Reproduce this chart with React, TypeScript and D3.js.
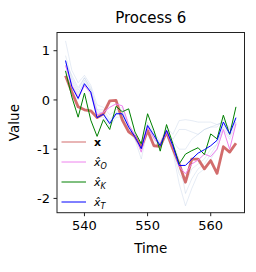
import React from "react";
import * as d3 from "d3";

const time = d3.range(537, 565);

const xTrue = [0.49, 0.16, -0.14, -0.2, -0.22, -0.36, -0.28, -0.02, -0.01, -0.41, -0.65, -0.74, -0.96, -0.62, -0.93, -0.94, -0.65, -0.99, -1.3, -1.67, -1.2, -1.2, -1.4, -1.23, -1.49, -0.95, -1.06, -0.88];
const xO = [0.7, 0.3, 0.05, 0.29, 0.15, -0.3, -0.25, -0.15, -0.08, -0.12, -0.5, -0.72, -1.06, -0.55, -0.78, -0.93, -0.65, -0.95, -1.35, -1.5, -1.3, -1.22, -1.1, -1.15, -1.0, -0.6, -1.0, -0.48];
const xK = [0.59, 0.06, -0.35, 0.14, -0.41, -0.74, -0.4, -0.6, -0.13, -0.24, -0.18, -0.65, -0.89, -0.28, -0.62, -1.04, -0.5, -0.89, -1.3, -1.1, -1.03, -0.97, -1.11, -0.69, -0.79, -0.31, -0.7, -0.14];
const xT = [0.8, 0.27, 0.03, 0.33, 0.16, -0.36, -0.29, -0.48, -0.28, -0.28, -0.55, -0.75, -0.99, -0.52, -0.72, -0.93, -0.62, -0.93, -1.33, -1.33, -1.2, -1.08, -1.01, -0.93, -0.82, -0.45, -0.69, -0.36];

const ens1 = [1.2, 0.6, 0.35, 0.5, 0.3, -0.1, -0.15, -0.3, -0.2, -0.15, -0.5, -0.7, -0.9, -0.45, -0.65, -0.85, -0.55, -0.7, -0.42, -0.4, -0.42, -0.45, -0.45, -0.45, -0.5, -0.45, -0.55, -0.45];
const ens2 = [0.9, 0.45, 0.2, 0.45, 0.25, -0.2, -0.2, -0.4, -0.25, -0.2, -0.55, -0.75, -1.0, -0.5, -0.7, -0.9, -0.6, -0.8, -0.6, -0.6, -0.65, -0.7, -0.6, -0.55, -0.55, -0.4, -0.6, -0.35];
const ens3 = [0.7, 0.35, 0.1, 0.4, 0.2, -0.3, -0.3, -0.5, -0.3, -0.3, -0.6, -0.8, -1.05, -0.55, -0.75, -0.95, -0.65, -1.0, -1.5, -1.7, -1.4, -1.3, -1.2, -1.0, -0.9, -0.5, -0.7, -0.4];
const ens4 = [0.6, 0.25, 0.0, 0.3, 0.1, -0.35, -0.35, -0.55, -0.35, -0.35, -0.6, -0.8, -1.2, -0.6, -0.8, -1.0, -0.7, -1.05, -1.7, -2.15, -1.8, -1.5, -1.4, -1.2, -1.0, -0.6, -0.8, -0.5];
const ens5 = [0.8, 0.4, 0.15, 0.35, 0.15, -0.25, -0.25, -0.45, -0.3, -0.25, -0.55, -0.7, -0.95, -0.5, -0.7, -0.9, -0.6, -0.9, -1.2, -1.9, -1.6, -1.4, -1.3, -1.1, -0.9, -0.55, -0.75, -0.45];
const ens6 = [0.75, 0.5, 0.25, 0.45, 0.2, -0.2, -0.3, -0.45, -0.25, -0.3, -0.5, -0.72, -1.0, -0.5, -0.7, -0.9, -0.62, -0.85, -1.0, -1.0, -0.8, -0.7, -0.6, -0.55, -0.5, -0.45, -0.6, -0.45];
const ensembles = [ens1, ens2, ens3, ens4, ens5, ens6];

const xTicks = [540, 550, 560];
const yTicks = [1, 0, -1, -2];

const W = 256;
const H = 272;
const left = 57, right = 244.5, top = 32.5, bottom = 212.7;
const font = "DejaVu Sans";

export default function App() {
  const x = d3.scaleLinear().domain([535.65, 565.35]).range([left, right]);
  const y = d3.scaleLinear().domain([-2.29, 1.37]).range([bottom, top]);
  const line = d3
    .line<number>()
    .x((_, i) => x(time[i]))
    .y((d) => y(d));

  const series = [
    { data: xTrue, color: "#cd5c5c", width: 2.8, opacity: 0.9, sub: null },
    { data: xO, color: "violet", width: 1, opacity: 1, sub: "O" },
    { data: xK, color: "green", width: 1, opacity: 1, sub: "K" },
    { data: xT, color: "blue", width: 1, opacity: 1, sub: "T" },
  ];

  return (
    <svg width={W} height={H} style={{ position: "absolute", left: 0, top: 0 }} fontFamily={font}>
      <rect width={W} height={H} fill="white" />
      <text x={(left + right) / 2} y={23} textAnchor="middle" fontSize={15}>
        Process 6
      </text>
      <defs>
        <clipPath id="plot">
          <rect x={left} y={top} width={right - left} height={bottom - top} />
        </clipPath>
      </defs>
      <g clipPath="url(#plot)">
        {ensembles.map((e, i) => (
          <path key={i} d={line(e) ?? ""} fill="none" stroke="lightsteelblue" strokeOpacity={0.45} strokeWidth={0.7} />
        ))}
        {series.map((s, i) => (
          <path
            key={i}
            d={line(s.data) ?? ""}
            fill="none"
            stroke={s.color}
            strokeOpacity={s.opacity}
            strokeWidth={s.width}
            strokeLinejoin="round"
          />
        ))}
      </g>
      <rect x={left} y={top} width={right - left} height={bottom - top} fill="none" stroke="#222" strokeWidth={1} />
      {xTicks.map((t) => (
        <g key={t} transform={`translate(${x(t)},${bottom})`}>
          <line y2={3.5} stroke="#222" />
          <text y={17} textAnchor="middle" fontSize={13}>
            {t}
          </text>
        </g>
      ))}
      {yTicks.map((t) => (
        <g key={t} transform={`translate(${left},${y(t)})`}>
          <line x2={-3.5} stroke="#222" />
          <text x={-7} dy="0.35em" textAnchor="end" fontSize={13}>
            {t < 0 ? `-${Math.abs(t)}` : t}
          </text>
        </g>
      ))}
      <text x={(left + right) / 2} y={253} textAnchor="middle" fontSize={13.5}>
        Time
      </text>
      <text transform={`translate(19,${(top + bottom) / 2}) rotate(-90)`} textAnchor="middle" fontSize={13.5}>
        Value
      </text>
      {series.map((s, i) => {
        const ly = 142 + i * 20;
        return (
          <g key={i}>
            <line x1={61.5} x2={86} y1={ly} y2={ly} stroke={s.color} strokeOpacity={s.opacity} strokeWidth={1} />
            {s.sub === null ? (
              <text x={94} y={ly + 4} fontSize={11} fontWeight="bold">
                x
              </text>
            ) : (
              <text x={94} y={ly + 4} fontSize={11} fontStyle="italic">
                {"x\u0302"}
                <tspan fontSize={8} dy={2.5}>
                  {s.sub}
                </tspan>
              </text>
            )}
          </g>
        );
      })}
    </svg>
  );
}
